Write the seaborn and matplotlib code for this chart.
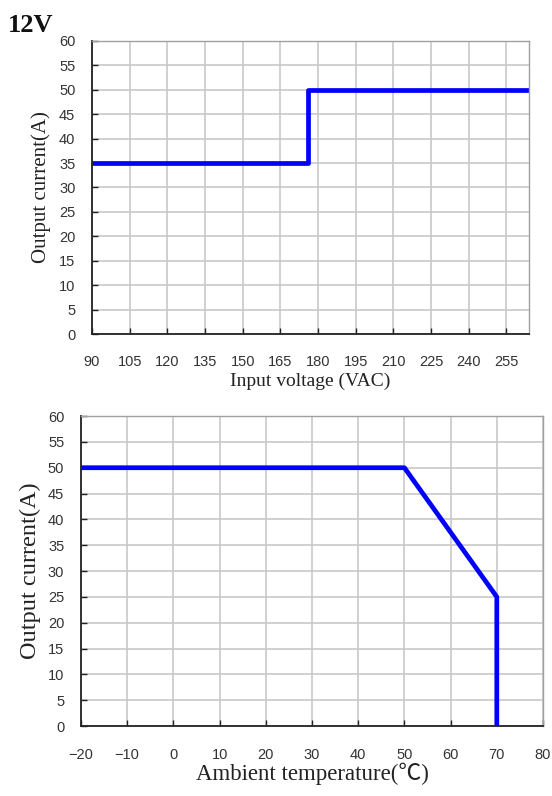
import pandas as pd
import matplotlib
matplotlib.use("Agg")
import matplotlib.pyplot as plt
import seaborn as sns

# derating curve vs input voltage
vin = [90, 176, 176, 264]
iout_vin = [35, 35, 50, 50]

# derating curve vs ambient temperature
temp = [-20, 50, 70, 70]
iout_temp = [50, 50, 25, 0]

vin_ticks = [90, 105, 120, 135, 150, 165, 180, 195, 210, 225, 240, 255]
temp_ticks = [-20, -10, 0, 10, 20, 30, 40, 50, 60, 70, 80]
i_ticks = [0, 5, 10, 15, 20, 25, 30, 35, 40, 45, 50, 55, 60]

sns.set_style("whitegrid")
plt.rcParams['font.family'] = ['Liberation Sans', 'DejaVu Sans']
serif = ['Liberation Serif', 'Noto Sans CJK SC', 'DejaVu Sans']

fig = plt.figure(figsize=(5.52, 7.96), dpi=100)
ax1 = fig.add_axes([0.1667, 0.5804, 0.7917, 0.3681])
ax2 = fig.add_axes([0.1467, 0.0879, 0.8370, 0.3894])

df1 = pd.DataFrame({'Input voltage': vin, 'Output current': iout_vin})
df2 = pd.DataFrame({'Temperature': temp, 'Output current': iout_temp})

sns.lineplot(data=df1, x='Input voltage', y='Output current', ax=ax1,
             sort=False, estimator=None, color='#0000ff', linewidth=3.4)
sns.lineplot(data=df2, x='Temperature', y='Output current', ax=ax2,
             sort=False, estimator=None, color='#0000ff', linewidth=3.4)

def style_axes(ax, xticks, xlim, pad_x, pad_y):
    ax.set_xlim(*xlim)
    ax.set_ylim(0, 60)
    ax.set_xticks(xticks)
    ax.set_yticks(i_ticks)
    ax.grid(True, color='#c8c8c8', linewidth=1.2)
    for side in ['top', 'right']:
        ax.spines[side].set_color('#a0a0a0')
        ax.spines[side].set_linewidth(1.0)
    for side in ['left', 'bottom']:
        ax.spines[side].set_color('#222222')
        ax.spines[side].set_linewidth(1.3)
    ax.tick_params(axis='x', direction='in', length=4, width=1, color='#222222',
                   labelsize=10.5, labelcolor='#333333', pad=pad_x, bottom=True)
    ax.tick_params(axis='y', direction='in', length=4, width=1, color='#222222',
                   labelsize=10.5, labelcolor='#333333', pad=pad_y, left=True)

style_axes(ax1, vin_ticks, (90, 264), 15, 12)
style_axes(ax2, temp_ticks, (-20, 80), 16, 12)

ax1.set_xlabel('Input voltage (VAC)', family=serif, fontsize=14, color='#222222', labelpad=3)
ax1.set_ylabel('Output current(A)', family=serif, fontsize=15, color='#222222', labelpad=6)
ax2.set_xlabel('Ambient temperature(\u2103)', family=serif, fontsize=16.5, color='#222222', labelpad=0)
ax2.set_ylabel('Output current(A)', family=serif, fontsize=17.5, color='#222222', labelpad=5)

fig.text(0.014, 0.982, '12V', family=serif, fontsize=19, fontweight='bold',
         va='top', ha='left', color='#111111')

fig.savefig('out.png', dpi=100)
